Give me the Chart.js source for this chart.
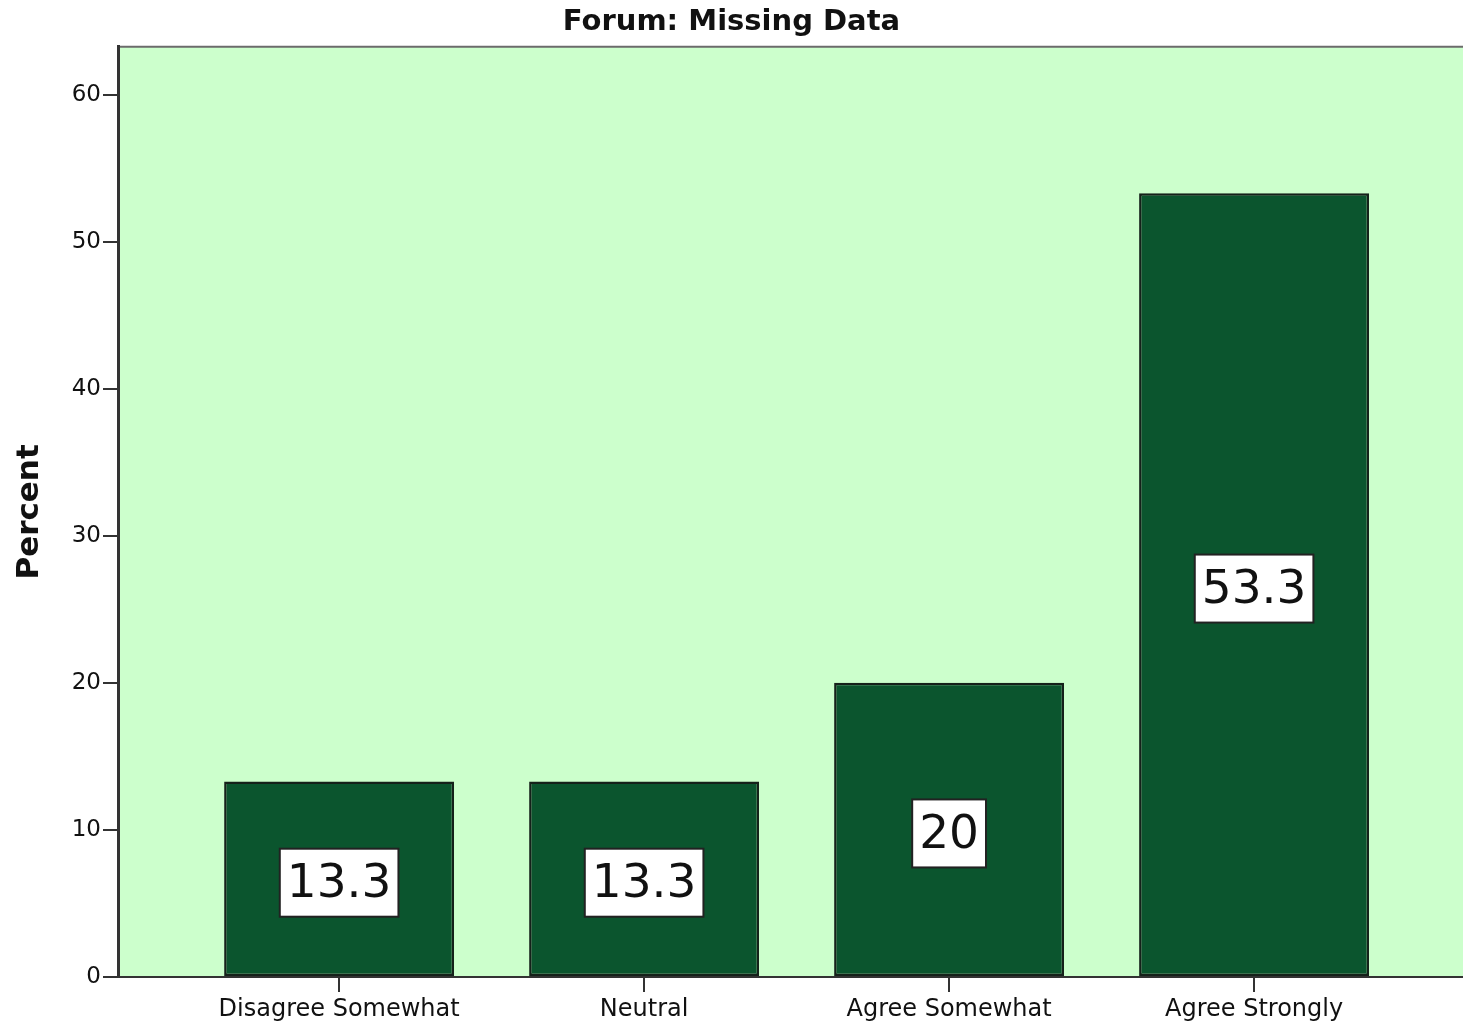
<!DOCTYPE html>
<html>
<head>
<meta charset="utf-8">
<script src="https://cdn.jsdelivr.net/npm/chart.js@4/dist/chart.umd.min.js"></script>
<style>
    html, body { margin: 0; padding: 0; background: #fff; }
    #wrap { width: 1463px; height: 1026px; }
</style>
</head>
<body>
<div id="wrap"><canvas id="missingChart"></canvas></div>
<script>
// Dados do gráfico
const categories = ['Disagree Somewhat', 'Neutral', 'Agree Somewhat', 'Agree Strongly'];
const percentValues = [13.3, 13.3, 20, 53.3];
const valueLabels = ['13.3', '13.3', '20', '53.3'];
const yTicks = [0, 10, 20, 30, 40, 50, 60];

const colors = {
    plotBg: '#ccffcc',   // fundo verde claro
    bar: '#0b552e',      // verde escuro
    barEdge: '#15211a',
    axis: '#333333',
    frame: '#6b6b6b',
    text: '#111111'
};

// Fundo da área do gráfico + moldura superior
const plotBackground = {
    id: 'plotBackground',
    beforeDraw(chart) {
        const { ctx, chartArea: a } = chart;
        ctx.save();
        ctx.fillStyle = colors.plotBg;
        ctx.fillRect(a.left, a.top, a.right - a.left, a.bottom - a.top);
        ctx.strokeStyle = colors.frame;
        ctx.lineWidth = 2;
        ctx.beginPath();
        ctx.moveTo(a.left, a.top);
        ctx.lineTo(a.right, a.top);
        ctx.stroke();
        ctx.restore();
    }
};

// Rótulos de valor em caixa branca no meio da barra
const boxLabels = {
    id: 'boxLabels',
    afterDatasetsDraw(chart) {
        const { ctx } = chart;
        const meta = chart.getDatasetMeta(0);
        ctx.save();
        ctx.font = '47px "DejaVu Sans"';
        ctx.textAlign = 'center';
        ctx.textBaseline = 'middle';
        meta.data.forEach((bar, i) => {
            const text = valueLabels[i];
            const cx = bar.x;
            const cy = (bar.y + bar.base) / 2 + 4;
            const w = ctx.measureText(text).width + 14;
            const h = 68;
            ctx.fillStyle = '#ffffff';
            ctx.fillRect(cx - w / 2, cy - h / 2, w, h);
            ctx.strokeStyle = '#222222';
            ctx.lineWidth = 2;
            ctx.strokeRect(cx - w / 2, cy - h / 2, w, h);
            ctx.fillStyle = colors.text;
            ctx.fillText(text, cx, cy + 2);
        });
        ctx.restore();
    }
};

new Chart(document.getElementById('missingChart'), {
    type: 'bar',
    data: {
        datasets: [{
            data: percentValues.map((v, i) => ({ x: i, y: v })),
            backgroundColor: colors.bar,
            borderColor: colors.barEdge,
            borderWidth: 2.5,
            borderSkipped: false,
            barPercentage: 0.754,
            categoryPercentage: 1
        }]
    },
    options: {
        responsive: true,
        maintainAspectRatio: false,
        animation: false,
        layout: { padding: { left: 0, right: 0, top: 0, bottom: 0 } },
        plugins: {
            legend: { display: false },
            tooltip: { enabled: false },
            title: {
                display: true,
                text: 'Forum: Missing Data',
                color: colors.text,
                font: { family: 'DejaVu Sans', size: 29, weight: 'bold' },
                padding: { top: 5, bottom: 7 }
            }
        },
        scales: {
            x: {
                type: 'linear',
                offset: false,
                min: -0.725,
                max: 3.685,
                afterBuildTicks: (scale) => { scale.ticks = categories.map((c, i) => ({ value: i })); },
                afterFit: (scale) => { scale.height = 49; },
                ticks: {
                    callback: (v) => categories[v],
                    color: colors.text,
                    font: { family: 'DejaVu Sans', size: 24 },
                    padding: 3,
                    maxRotation: 0,
                    autoSkip: false
                },
                grid: { offset: false, drawOnChartArea: false, drawTicks: true, tickLength: 15, color: colors.axis, lineWidth: 2 },
                border: { color: colors.axis, width: 2 }
            },
            y: {
                min: 0,
                max: 63.25,
                afterBuildTicks: (scale) => { scale.ticks = yTicks.map(v => ({ value: v })); },
                afterFit: (scale) => { scale.width = 118; },
                ticks: {
                    color: colors.text,
                    font: { family: 'DejaVu Sans', size: 23 },
                    padding: 2
                },
                grid: { drawOnChartArea: false, drawTicks: true, tickLength: 15, color: colors.axis, lineWidth: 2 },
                border: { color: colors.axis, width: 3 },
                title: {
                    display: true,
                    text: 'Percent',
                    color: colors.text,
                    font: { family: 'DejaVu Sans', size: 31, weight: 'bold' },
                    padding: { top: 11, bottom: 0 }
                }
            }
        }
    },
    plugins: [plotBackground, boxLabels]
});
</script>
</body>
</html>
